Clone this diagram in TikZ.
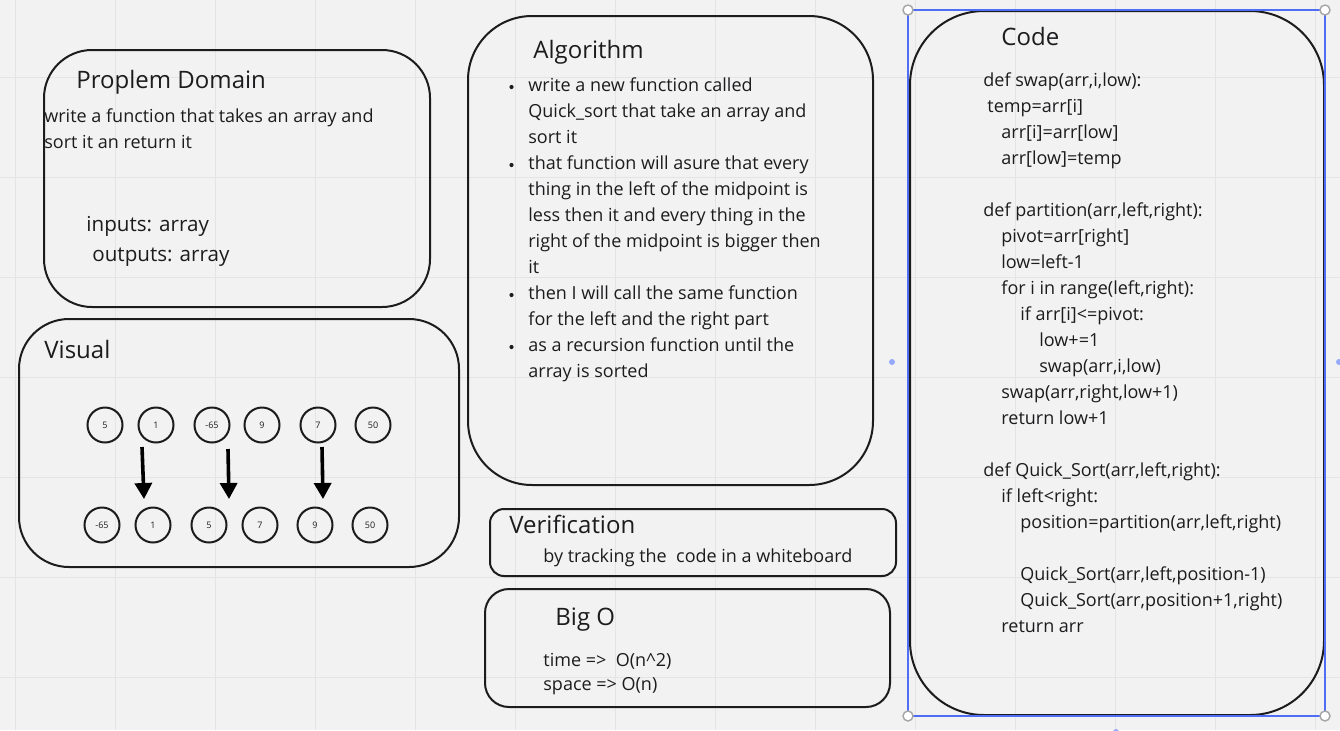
\documentclass[tikz,border=0pt]{standalone}
\usepackage{fontspec}
\setmainfont{Open Sans}
\usetikzlibrary{arrows.meta}
\definecolor{boardbg}{RGB}{242,242,242}
\definecolor{gridgray}{RGB}{228,228,228}
\definecolor{inkdark}{RGB}{28,28,30}
\definecolor{selblue}{RGB}{80,110,245}
\definecolor{handlegray}{RGB}{165,165,165}
\definecolor{dotblue}{RGB}{150,170,250}
\tikzset{
  panel/.style={draw=inkdark, line width=1pt},
  heading/.style={anchor=base west, inner sep=0pt, text=inkdark,
                  font=\fontsize{12}{14}\selectfont},
  % multi-line nodes: base is the baseline of the last line
  bodytext/.style={anchor=base west, inner sep=0pt, align=left, text=inkdark,
                   font=\fontsize{9}{13}\selectfont},
  iotext/.style={anchor=base west, inner sep=0pt, text=inkdark,
                 font=\fontsize{10.3}{15}\selectfont},
  numcirc/.style={circle, draw=inkdark, line width=1pt, minimum size=17.5pt,
                  inner sep=0pt, text=inkdark, font=\fontsize{4.5}{5}\selectfont},
  bulletdot/.style={circle, fill=inkdark, minimum size=2.1pt, inner sep=0pt},
  bigarr/.style={-{Triangle[width=8.5pt,length=8pt]}, line width=1.8pt, draw=black},
  handle/.style={circle, draw=handlegray, fill=white, line width=0.7pt,
                 minimum size=5pt, inner sep=0pt},
  sidedot/.style={circle, fill=dotblue, minimum size=3pt, inner sep=0pt},
}

\begin{document}
\begin{tikzpicture}[x=0.5pt, y=-0.5pt]
  \useasboundingbox (0,0) rectangle (1340,730);
  % board
  \fill[boardbg] (0,0) rectangle (1340,730);
  \draw[gridgray, line width=0.5pt, shift={(15,77)}, step=50pt] (-15,-77) grid (1325,653);

  % panels
  \draw[panel, rounded corners=24pt] (44,50) rectangle (430,307);
  \draw[panel, rounded corners=25pt] (19,319) rectangle (459,567);
  \draw[panel, rounded corners=32pt] (468,16) rectangle (873,485);
  \draw[panel, rounded corners=7pt] (490,509) rectangle (896,576);
  \draw[panel, rounded corners=12pt] (485,589) rectangle (890,707);
  \draw[panel, rounded corners=37pt] (910,11) rectangle (1324,715);

  % problem domain
  \node[heading]  (domtitle) at (76,88)  {Proplem Domain};
  \node[bodytext] (domtext)  at (44,148) {write a function that takes an array and\\sort it an return it};
  \node[iotext]   (inputs)   at (86,231) {inputs: array};
  \node[iotext]   (outputs)  at (92,261) {outputs: array};

  % visual
  \node[heading] (vistitle) at (44,358) {Visual};
  \node[numcirc] (t1) at (105,425) {5};
  \node[numcirc] (t2) at (156,425) {1};
  \node[numcirc] (t3) at (212,425) {-65};
  \node[numcirc] (t4) at (262,425) {9};
  \node[numcirc] (t5) at (318,425) {7};
  \node[numcirc] (t6) at (373,425) {50};
  \node[numcirc] (b1) at (102,525) {-65};
  \node[numcirc] (b2) at (153,525) {1};
  \node[numcirc] (b3) at (209,525) {5};
  \node[numcirc] (b4) at (260,525) {7};
  \node[numcirc] (b5) at (315,525) {9};
  \node[numcirc] (b6) at (370,525) {50};
  \coordinate (a1s) at (142,447);
  \coordinate (a1e) at (144,499);
  \coordinate (a2s) at (228,449);
  \coordinate (a2e) at (229,499);
  \coordinate (a3s) at (322,447);
  \coordinate (a3e) at (323,499);
  \draw[bigarr] (a1s) -- (a1e);
  \draw[bigarr] (a2s) -- (a2e);
  \draw[bigarr] (a3s) -- (a3e);

  % algorithm
  \node[heading]  (algtitle) at (533,58) {Algorithm};
  \node[bodytext] (algtext)  at (528,377) {write a new function called\\
    Quick\_sort that take an array and\\sort it\\
    that function will asure that every\\thing in the left of the midpoint is\\
    less then it and every thing in the\\right of the midpoint is bigger then\\it\\
    then I will call the same function\\for the left and the right part\\
    as a recursion function until the\\array is sorted};
  \node[bulletdot] (bul1) at (511.5,87) {};
  \node[bulletdot] (bul2) at (511.5,165) {};
  \node[bulletdot] (bul3) at (511.5,295) {};
  \node[bulletdot] (bul4) at (511.5,347) {};

  % verification and big o
  \node[heading]  (vertitle)  at (509,533) {Verification};
  \node[bodytext] (vertext)   at (543,562) {by tracking the\ \ code in a whiteboard};
  \node[heading]  (bigotitle) at (555,625) {Big O};
  \node[bodytext] (timeline)  at (543,666) {time =>\ \ O(n\textasciicircum{}2)};
  \node[bodytext] (spaceline) at (543,690) {space => O(n)};

  % code
  \node[heading]  (codetitle) at (1001,45) {Code};
  \node[bodytext] (codetext)  at (983,632) {def swap(arr,i,low):\\
    \hspace*{2pt}temp=arr[i]\\
    \hspace*{9pt}arr[i]=arr[low]\\
    \hspace*{9pt}arr[low]=temp\\
    \mbox{}\\
    def partition(arr,left,right):\\
    \hspace*{9pt}pivot=arr[right]\\
    \hspace*{9pt}low=left-1\\
    \hspace*{9pt}for i in range(left,right):\\
    \hspace*{18.5pt}if arr[i]<=pivot:\\
    \hspace*{28pt}low+=1\\
    \hspace*{28pt}swap(arr,i,low)\\
    \hspace*{9pt}swap(arr,right,low+1)\\
    \hspace*{9pt}return low+1\\
    \mbox{}\\
    def Quick\_Sort(arr,left,right):\\
    \hspace*{9pt}if left<right:\\
    \hspace*{18.5pt}position=partition(arr,left,right)\\
    \mbox{}\\
    \hspace*{18.5pt}Quick\_Sort(arr,left,position-1)\\
    \hspace*{18.5pt}Quick\_Sort(arr,position+1,right)\\
    \hspace*{9pt}return arr};

  % selection frame
  \draw[selblue, line width=0.6pt] (908,10) rectangle (1325,716);
  \node[handle]  (h1)  at (908,10)   {};
  \node[handle]  (h2)  at (1325,10)  {};
  \node[handle]  (h3)  at (908,716)  {};
  \node[handle]  (h4)  at (1325,716) {};
  \node[sidedot] (sd1) at (892,362)  {};
  \node[sidedot] (sd2) at (1339,362) {};
  \node[sidedot] (sd3) at (1116,732) {};
\end{tikzpicture}
\end{document}
